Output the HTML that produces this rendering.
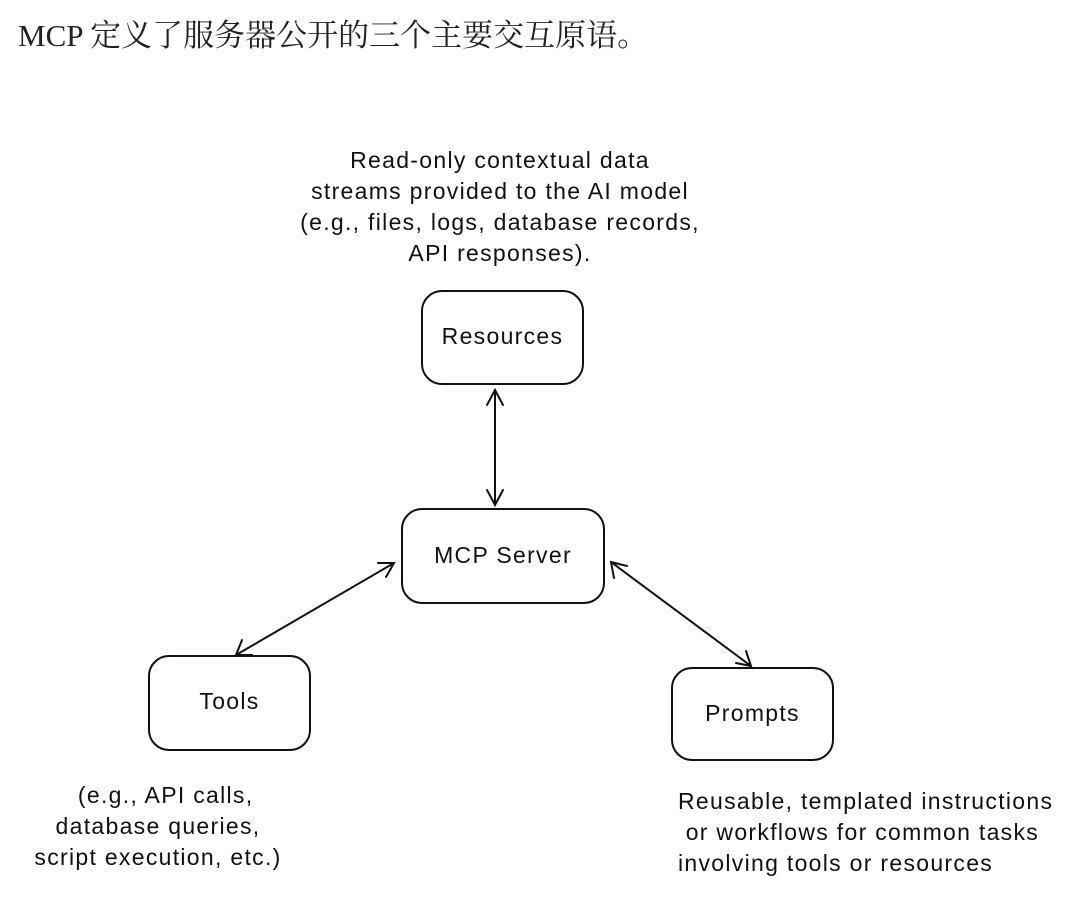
<!DOCTYPE html>
<html><head><meta charset="utf-8"><style>
body{margin:0;width:1080px;height:914px;background:#fff;overflow:hidden;position:relative}
.t{position:absolute;left:18px;top:10px;font:31px "Liberation Serif","Noto Serif CJK SC",serif;color:#222}
.h{position:absolute;font:23px "Liberation Sans","Noto Sans CJK SC",sans-serif;letter-spacing:1.3px;color:#111;text-align:center;line-height:31px;white-space:nowrap}
</style></head><body>
<div class="t">MCP 定义了服务器公开的三个主要交互原语。</div>
<svg width="1080" height="914" style="position:absolute;left:0;top:0" fill="none" stroke="#111" stroke-width="2" stroke-linecap="round">
<rect x="422" y="291" width="161" height="93" rx="20"/>
<rect x="402" y="509" width="202" height="94" rx="20"/>
<rect x="149" y="656" width="161" height="94" rx="20"/>
<rect x="672" y="668" width="161" height="92" rx="20"/>
<line x1="495" y1="390" x2="495" y2="505"/>
<polyline points="487,405 495,390 503,405"/><polyline points="487,490 495,505 503,490"/>
<line x1="236" y1="655" x2="394" y2="563"/>
<polyline points="242,640 236,655 252,655"/><polyline points="378,563 394,563 386,577"/>
<line x1="611" y1="562" x2="751" y2="666"/>
<polyline points="614,578 611,562 627,566"/><polyline points="736,663 751,666 746,651"/>
</svg>
<div class="h" style="left:240px;top:145px;width:520px">Read-only contextual data<br>streams provided to the AI model<br>(e.g., files, logs, database records,<br>API responses).</div>
<div class="h" style="left:422px;top:321px;width:161px">Resources</div>
<div class="h" style="left:402px;top:540px;width:202px">MCP Server</div>
<div class="h" style="left:149px;top:686px;width:161px">Tools</div>
<div class="h" style="left:672px;top:698px;width:161px">Prompts</div>
<div class="h" style="left:8px;top:780px;width:300px">&nbsp;&nbsp;(e.g., API calls,<br>database queries,<br>script execution, etc.)</div>
<div class="h" style="left:678px;top:786px;width:400px;text-align:left">Reusable, templated instructions<br>&nbsp;or workflows for common tasks<br>involving tools or resources</div>
</body></html>
